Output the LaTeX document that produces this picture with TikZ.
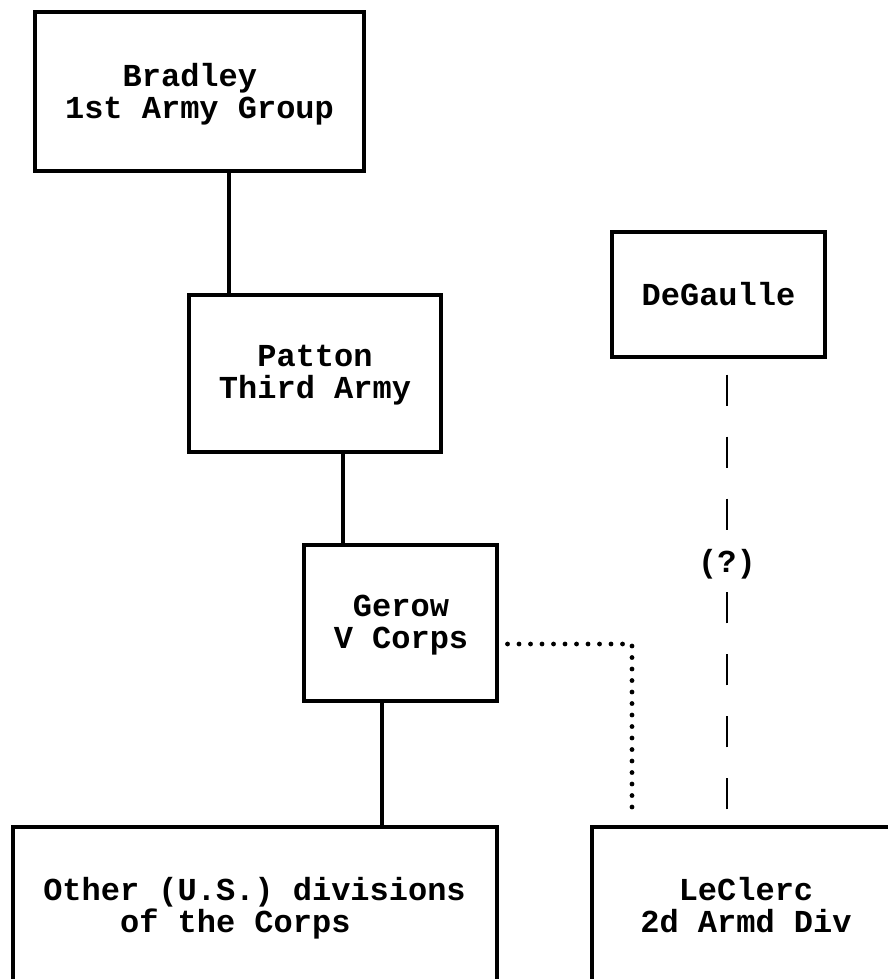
\documentclass[tikz,border=0pt]{standalone}
\usepackage{fontspec}
\setmonofont{Liberation Mono}
\usetikzlibrary{fit}
\begin{document}
\begin{tikzpicture}[x=0.75pt, y=-0.75pt,
  every node/.style={font=\ttfamily\bfseries\fontsize{24}{24}\selectfont},
  box/.style={draw, line width=2.3pt, inner sep=0pt},
  lbl/.style={inner sep=0pt, align=center},
  link/.style={line width=2.3pt},
  dashlink/.style={line width=2.2pt, dash pattern=on 23.25pt off 23.25pt, dash phase=34.5pt},
  dotlink/.style={line width=3.6pt, line cap=round, dash pattern=on 0pt off 8.625pt}]
\clip (0,0) rectangle (888,979);

% command boxes
\node[box, fit={(35,12) (364,171)}] (brad) {};
\node[box, fit={(189,295) (441,452)}] (pat) {};
\node[box, fit={(304,545) (497,701)}] (ger) {};
\node[box, fit={(612,232) (825,357)}] (dg) {};
\node[box, fit={(13,827) (497,983)}] (oth) {};
\node[box, fit={(592,827) (900,983)}] (lec) {};

% their captions
\node[lbl, align=left] (bradtxt) at (199.5,94) {\hphantom{000}Bradley\\1st Army Group};
\node[lbl] (pattxt) at (315,375) {Patton\\Third Army};
\node[lbl] (gertxt) at (401,625) {Gerow\\V Corps};
\node[lbl] (dgtxt) at (718.5,294) {DeGaulle};
\node[lbl, align=left] (othtxt) at (254.5,908) {Other (U.S.) divisions\\\hphantom{0000}of the Corps};
\node[lbl] (lectxt) at (746,905) {LeClerc\\2d Armd Div};

% x positions of the vertical chain links
\coordinate (c1) at (229,0);
\coordinate (c2) at (343,0);
\coordinate (c3) at (382,0);

\draw[link] (brad.south -| c1) -- (pat.north -| c1);
\draw[link] (pat.south -| c2) -- (ger.north -| c2);
\draw[link] (ger.south -| c3) -- (oth.north -| c3);

% dotted attachment of the French division to V Corps
\coordinate (bend) at (632,644);
\draw[dotlink] ([xshift=6.75pt]ger.east |- bend) -- (bend) -- ([yshift=7.5pt]bend |- lec.north);

% uncertain link from DeGaulle
\node[inner sep=2pt] (q) at (727,564) {(?)};
\draw[dashlink] (dg.south -| q) -- (q.north);
\draw[dashlink] (lec.north -| q) -- (q.south);
\end{tikzpicture}
\end{document}
